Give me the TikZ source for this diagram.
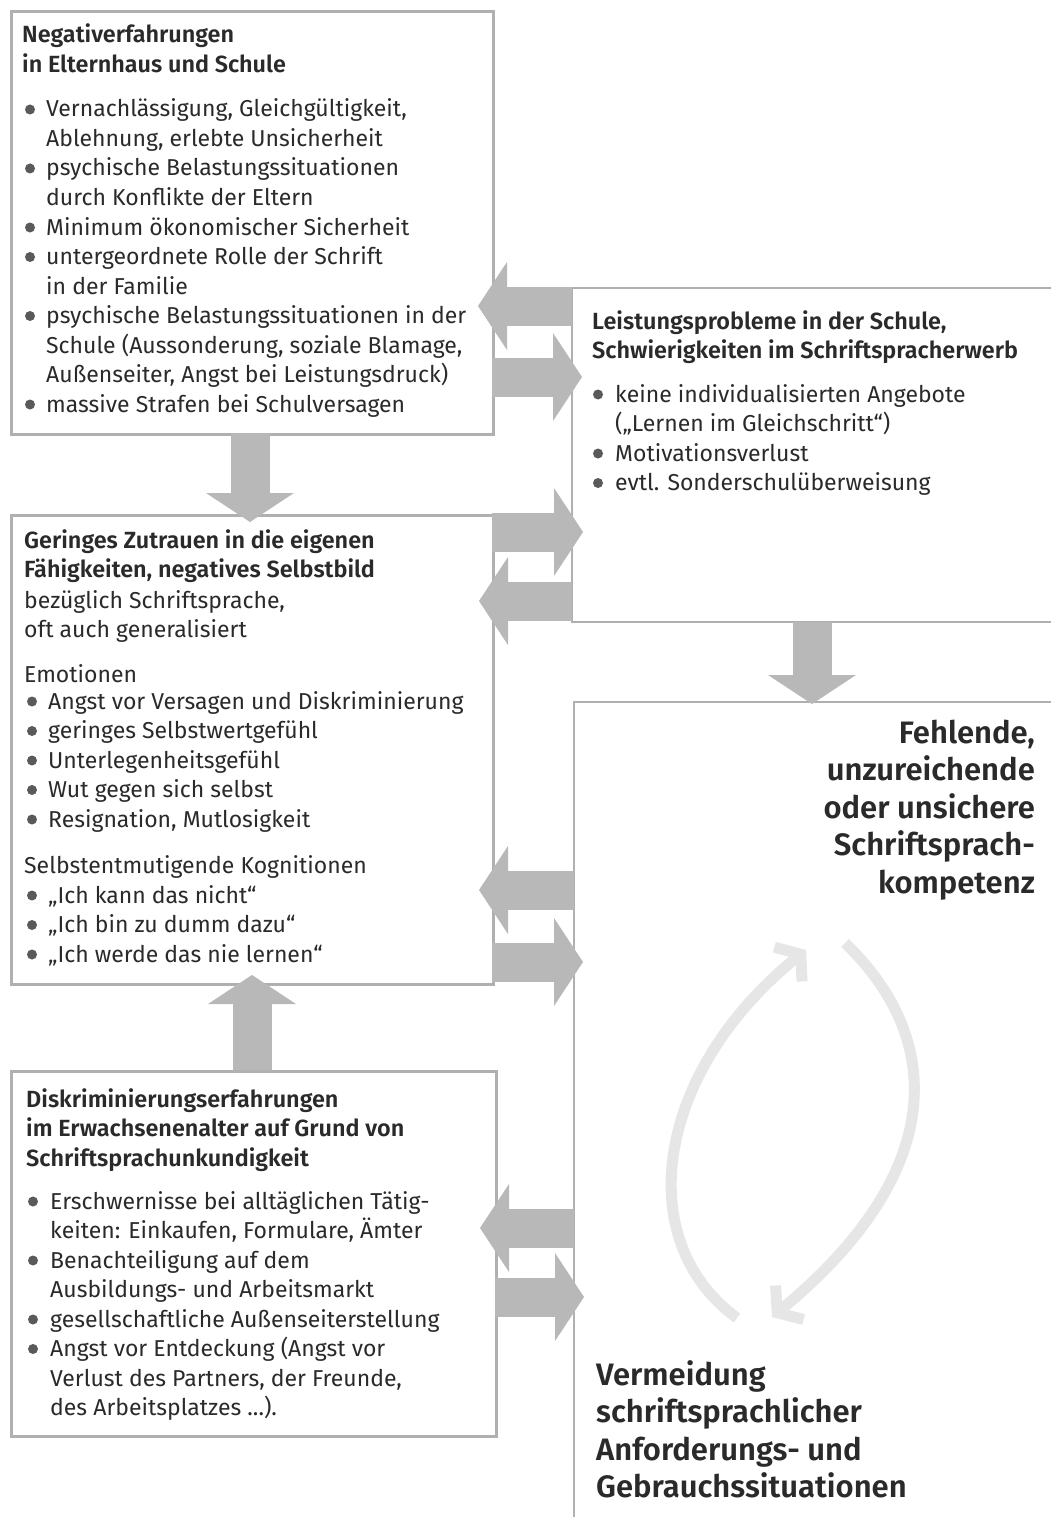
\documentclass[tikz,border=0pt]{standalone}
\usepackage{fontspec}
\setmainfont{Fira Sans}[BoldFont={Fira Sans SemiBold}]
\usetikzlibrary{arrows.meta}
\definecolor{bordc}{HTML}{B0B0B0}
\definecolor{arrc}{HTML}{B8B8B8}
\definecolor{txtc}{HTML}{2A2A2A}
\definecolor{bulc}{HTML}{5A5A5A}
\definecolor{circc}{HTML}{E6E6E6}
\newcommand{\txtblock}[5]{%
  \foreach \t [count=\i from 0] in {#5} {\node[#1] (#2\i) at ({#3},{#4+\i*29.5}) {\t};}}
\begin{document}
\begin{tikzpicture}[x=1pt,y=-1pt,
  box/.style={draw=bordc, line width=2.6pt, inner sep=0pt, anchor=north west},
  bord/.style={draw=bordc, line width=2.6pt},
  txt/.style={anchor=base west, inner sep=0pt, text=txtc, font=\fontsize{23}{27}\selectfont},
  htxt/.style={txt, font=\fontsize{23.4}{27}\selectfont\bfseries},
  bigr/.style={anchor=base east, inner sep=0pt, text=txtc, font=\fontsize{31}{36}\selectfont\bfseries},
  bigl/.style={anchor=base west, inner sep=0pt, text=txtc, font=\fontsize{31}{36}\selectfont\bfseries},
  bul/.style={fill=bulc},
  barrow/.style={draw=arrc, line width=39pt, -{Triangle[length=29pt,width=88pt,line width=0pt]}},
  circ/.style={draw=circc, line width=11pt, -{Straight Barb[length=16pt,width=44pt]}}
]
\useasboundingbox (0,0) rectangle (1050,1517);
\fill[white] (0,0) rectangle (1050,1517);

% boxes
\node[box, minimum width=482pt, minimum height=423pt] (b1) at (10,10) {};
\node[box, minimum width=482pt, minimum height=469pt] (b2) at (10,514) {};
\node[box, minimum width=485pt, minimum height=365pt] (b3) at (10,1070) {};

% right column lines
\coordinate (lpA) at (1052,288);
\coordinate (lpB) at (572,288);
\coordinate (lpC) at (572,622);
\coordinate (lpD) at (1052,622);
\draw[bord] (lpA) -- (lpB) -- (lpC) -- (lpD);
\coordinate (feA) at (1052,702);
\coordinate (feB) at (574,702);
\coordinate (feC) at (574,1520);
\draw[bord] (feA) -- (feB) -- (feC);

% horizontal block arrows
\coordinate (a1s) at (572,306);  \coordinate (a1e) at (478,306);
\coordinate (a2s) at (492,377);  \coordinate (a2e) at (582,377);
\coordinate (a3s) at (492,532);  \coordinate (a3e) at (583,532);
\coordinate (a4s) at (572,601);  \coordinate (a4e) at (479,601);
\coordinate (a5s) at (574,890);  \coordinate (a5e) at (479,890);
\coordinate (a6s) at (492,962);  \coordinate (a6e) at (583,962);
\coordinate (a7s) at (574,1228); \coordinate (a7e) at (480,1228);
\coordinate (a8s) at (495,1297); \coordinate (a8e) at (584,1297);
\foreach \s/\e in {a1s/a1e,a2s/a2e,a3s/a3e,a4s/a4e,a5s/a5e,a6s/a6e,a7s/a7e,a8s/a8e}
  \draw[barrow] (\s) -- (\e);

% vertical block arrows
\coordinate (v1s) at (250,433);  \coordinate (v1e) at (250,522);
\coordinate (v2s) at (252,1070); \coordinate (v2e) at (252,975);
\coordinate (v3s) at (812,622);  \coordinate (v3e) at (812,704);
\draw[barrow] (v1s) -- (v1e);
\draw[barrow] (v2s) -- (v2e);
\draw[barrow] (v3s) -- (v3e);

% circular arrows
\coordinate (c1s) at (737,1318); \coordinate (c1e) at (806,950);
\coordinate (c2s) at (845,943);  \coordinate (c2e) at (772,1317);
\draw[circ] (c1s) .. controls (630,1240) and (656,1071) .. (c1e);
\draw[circ] (c2s) .. controls (943,1037) and (950,1170) .. (c2e);

% box 1 text
\txtblock{htxt}{h1}{22}{43}{Negativerfahrungen,in Elternhaus und Schule}
\txtblock{txt}{l1}{46}{117}{{Vernachlässigung, Gleichgültigkeit,},{Ablehnung, erlebte Unsicherheit},psychische Belastungssituationen,durch Konflikte der Eltern,Minimum ökonomischer Sicherheit,untergeordnete Rolle der Schrift,in der Familie,psychische Belastungssituationen in der,{Schule (Aussonderung, soziale Blamage,},{Außenseiter, Angst bei Leistungsdruck)},massive Strafen bei Schulversagen}
\foreach \k in {0,2,4,5,7,10} \fill[bul] (30,{117+\k*29.5-7.5}) circle[radius=5pt];

% box 2 text
\txtblock{htxt}{h2}{24}{548}{Geringes Zutrauen in die eigenen,{Fähigkeiten, negatives Selbstbild}}
\txtblock{txt}{r2}{24}{608}{{bezüglich Schriftsprache,},oft auch generalisiert}
\txtblock{txt}{e2}{24}{682}{Emotionen}
\txtblock{txt}{m2}{48}{709}{Angst vor Versagen und Diskriminierung,geringes Selbstwertgefühl,Unterlegenheitsgefühl,Wut gegen sich selbst,{Resignation, Mutlosigkeit}}
\foreach \k in {0,...,4} \fill[bul] (32,{709+\k*29.5-7.5}) circle[radius=5pt];
\txtblock{txt}{s2}{24}{873}{Selbstentmutigende Kognitionen}
\txtblock{txt}{k2}{48}{903}{„Ich kann das nicht“,„Ich bin zu dumm dazu“,„Ich werde das nie lernen“}
\foreach \k in {0,...,2} \fill[bul] (32,{903+\k*29.5-7.5}) circle[radius=5pt];

% box 3 text
\txtblock{htxt}{h3}{26}{1107}{Diskriminierungserfahrungen,im Erwachsenenalter auf Grund von,Schriftsprachunkundigkeit}
\txtblock{txt}{l3}{50}{1209}{Erschwernisse bei alltäglichen Tätig-,{keiten: Einkaufen, Formulare, Ämter},Benachteiligung auf dem,Ausbildungs- und Arbeitsmarkt,gesellschaftliche Außenseiterstellung,Angst vor Entdeckung (Angst vor,{Verlust des Partners, der Freunde,},{des Arbeitsplatzes .{}..).}}
\foreach \k in {0,2,4,5} \fill[bul] (33,{1209+\k*29.5-7.5}) circle[radius=5pt];

% right box text
\txtblock{htxt}{hr}{592}{329}{{Leistungsprobleme in der Schule,},Schwierigkeiten im Schriftspracherwerb}
\txtblock{txt}{lr}{615}{402}{keine individualisierten Angebote,(„Lernen im Gleichschritt“),Motivationsverlust,evtl. Sonderschulüberweisung}
\foreach \k in {0,2,3} \fill[bul] (598,{402+\k*29.5-7.5}) circle[radius=5pt];

% big texts
\node[bigr] (f1) at (1035,743) {Fehlende,};
\node[bigr] (f2) at (1035,780.5) {unzureichende};
\node[bigr] (f3) at (1035,818) {oder unsichere};
\node[bigr] (f4) at (1035,855.5) {Schriftsprach-};
\node[bigr] (f5) at (1035,893) {kompetenz};
\node[bigl] (g1) at (596,1385) {Vermeidung};
\node[bigl] (g2) at (596,1422.5) {schriftsprachlicher};
\node[bigl] (g3) at (596,1460) {Anforderungs- und};
\node[bigl] (g4) at (596,1497.5) {Gebrauchssituationen};
\end{tikzpicture}
\end{document}
